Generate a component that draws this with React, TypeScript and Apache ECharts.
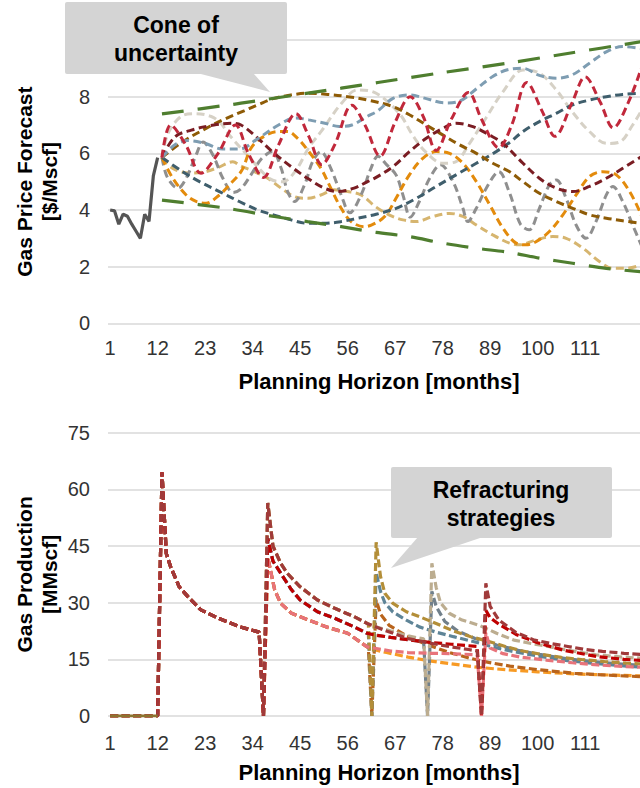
import React, { useEffect, useRef } from "react";
import * as echarts from "echarts";

const FONT = '"Liberation Sans", Arial, sans-serif';

// x-axis tick labels (months)
const monthTicks = [1, 12, 23, 34, 45, 56, 67, 78, 89, 100, 111];

// ---------- Top chart: gas price forecast [$/Mscf] ----------
const priceHistory = [[1, 4.0], [2, 3.97], [3, 3.5], [4, 3.85], [5, 3.78], [6, 3.5], [7, 3.25], [8, 3.0], [9, 3.85], [10, 3.6], [11, 5.2], [12, 5.85]];
const coneUpper = [[13, 7.39], [28.6, 7.71], [31.3, 7.77], [54.5, 8.3], [63, 8.5], [78, 8.85], [93, 9.18], [108, 9.55], [124, 9.94]];
const coneLower = [[13, 4.35], [28, 4.06], [39, 3.77], [46.7, 3.59], [54.5, 3.41], [62.6, 3.21], [70.3, 3.06], [78, 2.83], [85.8, 2.65], [93.5, 2.5], [100.4, 2.3], [108.1, 2.12], [115.9, 1.94], [124, 1.82]];
const priceBeige = [[13, 5.85], [14.4, 6.7], [17.4, 7.3], [20.5, 7.4], [24.4, 7.3], [26.7, 7.05], [28.3, 6.7], [33, 5.9], [38, 5.1], [41, 5.0], [44, 5.4], [47, 6.2], [50, 6.8], [54.5, 7.75], [58.3, 8.24], [62.6, 8.12], [68, 7.4], [71, 6.65], [74, 6.06], [78, 5.65], [81, 5.7], [84, 6.3], [88, 7.24], [92, 8.18], [96.6, 8.94], [100.4, 8.83], [104.3, 8.24], [108, 7.47], [112, 6.77], [116, 6.35], [119, 6.4], [122, 7.0], [124, 7.5]];
const priceRed = [[13, 5.85], [15, 7.0], [18.5, 6.3], [22, 5.3], [26, 6.0], [30, 7.0], [33, 6.0], [36.5, 5.15], [40, 6.3], [44, 7.4], [47, 6.6], [50, 5.6], [53, 6.3], [57, 7.7], [60, 7.0], [63.5, 5.9], [67, 7.1], [70.5, 8.0], [73.5, 7.3], [76.5, 6.1], [80, 7.2], [84, 8.15], [87, 7.2], [91, 6.2], [94, 7.0], [97.5, 8.5], [101, 7.5], [104, 6.6], [108, 7.8], [111, 8.7], [114.5, 7.8], [117.5, 6.9], [121, 7.8], [124, 9.0]];
const priceBlue = [[13, 5.85], [16, 6.3], [19, 6.45], [23, 6.35], [27, 6.15], [31, 6.15], [35, 6.5], [40, 7.0], [44, 7.25], [47, 7.18], [51, 7.05], [54, 6.95], [57, 7.0], [60.5, 7.3], [63, 7.5], [66.5, 7.94], [70.3, 8.06], [74, 7.94], [78.5, 7.78], [82, 7.85], [86, 8.3], [89.6, 8.71], [93, 8.95], [96.6, 9.0], [100.4, 8.75], [104.3, 8.65], [108, 8.77], [112, 9.18], [116, 9.59], [119.7, 9.77], [124, 9.7]];
const priceMaroon = [[13, 5.85], [16, 6.58], [19.8, 6.82], [25, 7.0], [29, 7.06], [31.3, 7.0], [35.2, 6.53], [39, 6.0], [42.9, 5.53], [46.7, 5.12], [50.6, 4.77], [53.7, 4.65], [57.5, 4.77], [60.6, 5.0], [62.6, 5.15], [66.5, 5.53], [70.3, 6.06], [74.2, 6.53], [78, 6.88], [81.1, 7.06], [85, 6.94], [88.8, 6.65], [92, 6.35], [96.6, 5.65], [100.4, 5.12], [104.3, 4.77], [108.1, 4.65], [112, 4.83], [115.9, 5.12], [119.7, 5.47], [124, 5.88]];
const priceBrown = [[13, 5.85], [17.8, 6.41], [23.2, 6.88], [27.1, 7.18], [32, 7.5], [35.2, 7.71], [39, 7.94], [42.9, 8.06], [46.7, 8.12], [51.4, 8.08], [56, 8.0], [60.6, 7.88], [66.5, 7.65], [70.3, 7.36], [74.2, 7.0], [78, 6.65], [81.9, 6.3], [85.8, 6.0], [89.6, 5.65], [93.5, 5.35], [96.6, 5.0], [100.4, 4.59], [104.3, 4.3], [108.1, 4.06], [112, 3.83], [115.9, 3.71], [119.7, 3.62], [124, 3.53]];
const priceOrange = [[13, 5.85], [15.5, 5.12], [18.6, 4.53], [20.9, 4.3], [23.2, 4.24], [26.3, 4.53], [28.6, 4.88], [31.5, 5.4], [33.6, 6.18], [35.9, 6.53], [39.8, 6.77], [42.1, 6.77], [44.4, 6.53], [46.7, 6.12], [49.8, 5.47], [52.1, 4.77], [54.5, 4.06], [56.8, 3.59], [59.9, 3.41], [62.6, 3.55], [64.9, 3.82], [67.2, 4.41], [70.3, 5.24], [73.4, 5.82], [76.5, 6.06], [79.6, 6.0], [82.7, 5.65], [85.8, 5.0], [88.9, 4.18], [92, 3.35], [95, 2.83], [97.3, 2.77], [99.6, 2.88], [102.7, 3.24], [105.8, 3.82], [108.9, 4.53], [112, 5.18], [115.1, 5.35], [118.2, 5.24], [121.3, 4.65], [124, 3.82]];
const priceGray = [[13, 5.85], [14, 5.24], [15.5, 4.88], [16.7, 4.77], [18.6, 5.12], [20.9, 5.94], [22.5, 6.4], [24.8, 5.94], [27.1, 5.12], [29.5, 4.62], [31.3, 4.75], [33.6, 5.24], [36, 5.8], [38.6, 6.06], [40.6, 5.47], [42.1, 4.65], [43.7, 4.3], [46, 4.88], [47.9, 5.71], [49.8, 6.06], [52.1, 5.47], [54.5, 4.53], [56.5, 3.9], [59.1, 4.53], [61.4, 5.47], [63, 5.9], [65, 5.6], [67.2, 5.24], [68.8, 4.53], [70.5, 3.75], [72.6, 4.3], [75, 5.12], [77.5, 5.6], [80.4, 5.0], [82.7, 4.06], [83.8, 3.59], [85.8, 4.06], [88.1, 4.77], [91, 5.35], [93.5, 4.6], [96, 3.5], [98, 3.3], [100.4, 4.06], [102.7, 4.88], [104.3, 5.06], [106.6, 4.41], [108.9, 3.47], [111.2, 3.0], [113.5, 3.59], [115.9, 4.53], [117.4, 4.83], [119.7, 4.3], [122, 3.47], [124, 2.76]];
const priceTan = [[13, 5.85], [15.5, 5.47], [19.4, 5.3], [23, 5.35], [26, 5.5], [29.4, 5.7], [31.3, 5.55], [34.4, 5.35], [37.5, 5.12], [40.6, 4.77], [43.7, 4.47], [46.7, 4.41], [49.8, 4.53], [52.9, 4.71], [56, 4.65], [59.1, 4.53], [62.6, 4.1], [65.7, 3.82], [68.8, 3.65], [71.9, 3.59], [75.7, 3.77], [79.6, 3.88], [82.7, 3.77], [85.8, 3.47], [89.6, 3.12], [93.5, 2.83], [95.8, 2.77], [99.6, 2.94], [103.5, 3.06], [106.6, 3.0], [110.5, 2.65], [114.3, 2.18], [117.4, 1.94], [120.5, 1.94], [124, 2.06]];
const priceSlate = [[13, 5.85], [17.8, 5.35], [21.7, 5.0], [26.3, 4.65], [30.9, 4.3], [35.2, 4.0], [39, 3.82], [42.9, 3.65], [46.7, 3.53], [50.6, 3.53], [54.5, 3.59], [58.3, 3.71], [62.6, 3.85], [67.2, 4.06], [71.9, 4.41], [76.5, 4.83], [81.1, 5.24], [85.8, 5.65], [90.4, 6.06], [93.5, 6.38], [96.6, 6.77], [100.4, 7.12], [104.3, 7.41], [108.1, 7.71], [112, 7.88], [115.9, 8.0], [119.7, 8.08], [124, 8.12]];

// ---------- Bottom chart: gas production [MMscf] ----------
const prodIdle = [[1, 0], [12, 0]];
const prodFirst = [[1, 0], [12, 0], [13, 64.5], [14, 43], [15, 39.5], [17, 34.2], [19, 31.6], [22, 28.1], [26, 25.9], [31, 23.6], [35.5, 22.2], [36.5, 0]];
const prodUpper = [[37.5, 56.4], [38.7, 45], [40.5, 40.4], [42, 37.8], [45, 34.2], [49, 30.7], [53, 28.5], [57.5, 26.3], [60.5, 24.5]];
const prodMiddle = [[37.5, 47], [38.7, 41], [40.5, 37.8], [43, 33.4], [45, 30.7], [49, 27.6], [53, 25.9], [57.5, 23.6], [60.5, 21.9]];
const prodLower = [[37.5, 42], [39.1, 33.4], [40.5, 29.8], [43, 27.2], [47, 25.4], [51, 23.6], [56, 21.9], [60.5, 18.3]];
const prodBrickTail = [[62, 23.8], [65, 22.5], [70, 20.5], [75, 19.3], [80, 18.3], [84, 17.6], [86, 17.2], [87, 0], [88, 35.1], [89, 29], [91, 25.4], [95, 22.1], [99, 20.2], [103, 19.2], [107, 18.4], [111, 17.6], [115, 17.1], [120, 16.6], [124, 16.3]];
const prodRedTail = [[62, 21.5], [66, 20.8], [70, 20.2], [75, 19.5], [80, 19], [84, 18.6], [86, 18.4], [87, 0], [88, 28], [89, 26], [91, 24.3], [95, 21.6], [100, 19.4], [106, 17.4], [114, 15.7], [120, 15], [124, 14.7]];
const prodPinkTail = [[62, 18], [66, 17.2], [70, 16.8], [75, 16.6], [80, 16.5], [86, 16.2], [87, 0], [88, 22], [89, 18], [92, 16.5], [96, 15.6], [102, 14.8], [108, 14.1], [114, 13.5], [120, 13.1], [124, 12.9]];
const prodGoldTail = [[60.8, 24.3], [61.6, 0], [62.6, 46], [63.6, 37], [64.6, 32.5], [66.5, 29.8], [69.6, 27.6], [72.6, 26.3], [76.5, 24.5], [80.5, 22.5], [84.5, 21], [88.5, 19.8], [92.5, 18.4], [96.5, 17.2], [100.5, 16.4], [105.5, 15.5], [110.5, 14.9], [115.5, 14.4], [120.5, 14], [124, 13.8]];
const prodBlueTail = [[60.8, 21.7], [61.6, 0], [62.6, 38], [63.6, 33], [64.6, 30], [66.5, 27.5], [69.6, 25.4], [72.6, 23.6], [76.5, 22.2], [80.5, 21], [85.5, 19.6], [90.5, 18], [95.5, 16.8], [100.5, 15.8], [106.5, 14.7], [112.5, 14], [118.5, 13.4], [124, 12.9]];
const prodDarkOrangeTail = [[60.8, 18.1], [61.6, 0], [62.6, 30.7], [63.6, 27], [65.6, 24], [69.6, 21.2], [74.6, 18.8], [79.6, 16.8], [84.6, 15.2], [88.6, 14.2], [93.6, 13.2], [100.6, 12.2], [108.6, 11.3], [116.6, 10.8], [124, 10.4]];
const prodOrangeTail = [[62, 17.6], [65, 16.8], [70, 15.6], [75, 14.6], [80, 13.8], [86, 12.9], [90, 12.5], [95, 12.1], [100, 11.7], [106, 11.3], [112, 11], [118, 10.8], [124, 10.6]];
const prodBeigeTail = [[62, 23.8], [66, 22.5], [70, 21.2], [73.6, 20.4], [74.5, 0], [75.5, 40.4], [76.5, 34], [77.5, 30], [79.5, 27.2], [82.5, 25.4], [86.5, 24], [90.5, 21.9], [94.5, 20.1], [98.5, 19.2], [102.5, 18.4], [106.5, 17.5], [113.5, 16.2], [119.5, 15.6], [124, 15.3]];
const prodSlateTail = [[62, 21.5], [66, 20.8], [70, 20.2], [73.6, 19.7], [74.5, 0], [75.5, 33], [76.5, 29], [78.5, 25], [81.5, 22.5], [85.5, 20.5], [90.5, 18.8], [95.5, 17.4], [100.5, 16.3], [106.5, 15.2], [112.5, 14.4], [118.5, 13.8], [124, 13.4]];

const C = {
  cone: "#4F7E2F",
  hist: "#555555",
  beige: "#D6D1C6",
  red: "#C1283B",
  blue: "#7E9DB2",
  maroon: "#7A1D23",
  brown: "#8E5B06",
  orange: "#E38B0C",
  gray: "#8F8F8F",
  tan: "#D6B56F",
  slate: "#3F5E6C",
  pBrick: "#A03A3A",
  pRed: "#C00000",
  pPink: "#E8737A",
  pGold: "#B38E38",
  pBlue: "#5E8497",
  pDarkOrange: "#B9641C",
  pOrange: "#F79A24",
  pBeige: "#BCAD90",
  pSlate: "#71808B",
  pIdle: "#8C7430",
};

function priceLine(data: number[][], color: string) {
  return {
    type: "line", data, xAxisIndex: 0, yAxisIndex: 0, symbol: "none", smooth: 0.35, silent: true,
    lineStyle: { color, width: 3, type: [8, 4.5], cap: "butt" },
  };
}
function prodLine(data: number[][], color: string) {
  return {
    type: "line", data, xAxisIndex: 1, yAxisIndex: 1, symbol: "none", smooth: false, silent: true,
    lineStyle: { color, width: 3.2, type: [8, 3.5], cap: "butt" },
  };
}

export default function App() {
  const ref = useRef<HTMLDivElement>(null);
  useEffect(() => {
    if (!ref.current) return;
    const chart = echarts.init(ref.current, undefined, { renderer: "svg" });
    const axisLabel = (margin: number) => ({ fontSize: 20, color: "#333333", fontFamily: FONT, margin });
    const xAxis = (i: number) => ({
      type: "value", gridIndex: i, min: 0.5, max: 123.7,
      axisLine: { show: false }, axisTick: { show: false }, splitLine: { show: false },
      axisLabel: { ...axisLabel(i === 0 ? 15 : 17), customValues: monthTicks },
    });
    const yAxis = (i: number, max: number, interval: number) => ({
      type: "value", gridIndex: i, min: 0, max, interval,
      axisLine: { show: false }, axisTick: { show: false },
      splitLine: { show: true, lineStyle: { color: "#D9D9D9", width: 1.5 } },
      axisLabel: axisLabel(18),
    });
    const titleFont = { fontFamily: FONT, fontSize: 21, fontWeight: "bold", fill: "#000" };
    const calloutFont = { fontFamily: FONT, fontSize: 23, fontWeight: "bold", fill: "#000", lineHeight: 28, align: "center", verticalAlign: "middle" };
    const option: any = {
      animation: false,
      backgroundColor: "#ffffff",
      textStyle: { fontFamily: FONT },
      grid: [
        { left: 108, right: 0, top: 40, height: 283.3 },
        { left: 108, right: 0, top: 432.7, height: 283.3 },
      ],
      xAxis: [xAxis(0), xAxis(1)],
      yAxis: [yAxis(0, 10, 2), yAxis(1, 75, 15)],
      series: [
        {
          type: "line", data: priceHistory, xAxisIndex: 0, yAxisIndex: 0, symbol: "none", silent: true,
          lineStyle: { color: C.hist, width: 3.2 },
        },
        priceLine(priceTan, C.tan),
        priceLine(priceGray, C.gray),
        priceLine(priceBeige, C.beige),
        priceLine(priceOrange, C.orange),
        priceLine(priceSlate, C.slate),
        priceLine(priceBrown, C.brown),
        priceLine(priceMaroon, C.maroon),
        priceLine(priceBlue, C.blue),
        priceLine(priceRed, C.red),
        {
          type: "line", data: coneUpper, xAxisIndex: 0, yAxisIndex: 0, symbol: "none", smooth: 0.3, silent: true,
          lineStyle: { color: C.cone, width: 3.2, type: [22, 14], cap: "butt" },
        },
        {
          type: "line", data: coneLower, xAxisIndex: 0, yAxisIndex: 0, symbol: "none", smooth: 0.3, silent: true,
          lineStyle: { color: C.cone, width: 3.2, type: [22, 14], cap: "butt" },
        },
        prodLine([...prodFirst, ...prodLower, ...prodOrangeTail], C.pOrange),
        prodLine([...prodFirst, ...prodLower, ...prodDarkOrangeTail], C.pDarkOrange),
        prodLine([...prodFirst, ...prodMiddle, ...prodSlateTail], C.pSlate),
        prodLine([...prodFirst, ...prodMiddle, ...prodBlueTail], C.pBlue),
        prodLine([...prodFirst, ...prodUpper, ...prodBeigeTail], C.pBeige),
        prodLine([...prodFirst, ...prodUpper, ...prodGoldTail], C.pGold),
        prodLine([...prodFirst, ...prodLower, ...prodPinkTail], C.pPink),
        prodLine([...prodFirst, ...prodMiddle, ...prodRedTail], C.pRed),
        prodLine([...prodFirst, ...prodUpper, ...prodBrickTail], C.pBrick),
        {
          type: "line", data: prodIdle, xAxisIndex: 1, yAxisIndex: 1, symbol: "none", silent: true,
          lineStyle: { color: C.pIdle, width: 3 },
        },
      ],
      graphic: [
        { type: "text", z: 100, x: 379, y: 381, style: { ...titleFont, fontSize: 22, text: "Planning Horizon [months]", align: "center", verticalAlign: "middle" } },
        { type: "text", z: 100, x: 379, y: 772, style: { ...titleFont, fontSize: 22, text: "Planning Horizon [months]", align: "center", verticalAlign: "middle" } },
        { type: "text", z: 100, x: 37, y: 181.6, rotation: Math.PI / 2, style: { ...titleFont, text: "Gas Price Forecast\n[$/Mscf]", lineHeight: 25, align: "center", verticalAlign: "middle" } },
        { type: "text", z: 100, x: 37, y: 574.4, rotation: Math.PI / 2, style: { ...titleFont, text: "Gas Production\n[MMscf]", lineHeight: 25, align: "center", verticalAlign: "middle" } },
        // callout: cone of uncertainty
        { type: "polygon", z: 100, shape: { points: [[197, 73], [253, 73], [270, 92]] }, style: { fill: "#D4D4D4" } },
        { type: "rect", z: 100, shape: { x: 65, y: 2, width: 222, height: 72, r: 2 }, style: { fill: "#D4D4D4" } },
        { type: "text", z: 101, x: 176, y: 39, style: { ...calloutFont, text: "Cone of\nuncertainty" } },
        // callout: refracturing strategies
        { type: "polygon", z: 100, shape: { points: [[418, 537], [483, 537], [391, 568]] }, style: { fill: "#D4D4D4" } },
        { type: "rect", z: 100, shape: { x: 391, y: 467, width: 221, height: 71, r: 2 }, style: { fill: "#D4D4D4" } },
        { type: "text", z: 101, x: 501, y: 504, style: { ...calloutFont, text: "Refracturing\nstrategies" } },
      ],
    };
    chart.setOption(option);
    return () => chart.dispose();
  }, []);
  return <div ref={ref} style={{ position: "fixed", left: 0, top: 0, width: 640, height: 788, background: "#fff" }} />;
}
